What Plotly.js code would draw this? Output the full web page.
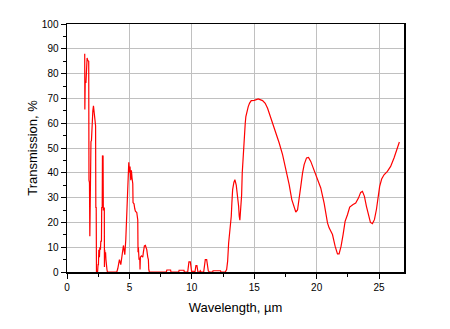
<!DOCTYPE html>
<html>
<head>
<meta charset="utf-8">
<script src="https://cdn.plot.ly/plotly-3.0.1.min.js"></script>
<style>html,body{margin:0;padding:0;background:#fff;}#chart{width:450px;height:329px;}</style>
</head>
<body>
<div id="chart"></div>
<script>
const wavelength = [
  1.42, 1.43, 1.46, 1.52, 1.55, 1.61, 1.66, 1.74, 1.76, 1.80, 1.83, 1.85, 1.89, 1.92, 1.96, 1.99, 2.04, 2.07, 2.12, 2.16, 2.20, 2.25, 2.29, 2.31, 2.34, 2.36,
  2.45, 2.49, 2.52, 2.55, 2.60, 2.63, 2.68, 2.71, 2.76, 2.78, 2.82, 2.84, 2.87, 2.89, 2.91, 2.96, 2.99, 3.00, 3.02, 3.06, 3.09, 3.12, 3.14, 3.20, 3.24,
  3.99, 4.07, 4.20, 4.31, 4.41, 4.47, 4.52, 4.57, 4.63, 4.71, 4.76, 4.81, 4.84, 4.87, 4.89, 4.95, 5.00, 5.05, 5.11, 5.16, 5.21, 5.27, 5.29, 5.37, 5.43, 5.48, 5.59, 5.61, 5.67, 5.69, 5.72, 5.77, 5.83, 5.85, 5.88, 5.96, 6.07, 6.12, 6.20, 6.28, 6.39, 6.47, 6.52, 6.55, 6.60,
  7.96, 8.00, 8.30, 8.33, 8.95, 8.98, 9.37, 9.40, 9.67, 9.77, 9.88, 9.99, 10.04, 10.15, 10.25, 10.33, 10.41, 10.49, 10.62, 10.68, 10.74, 10.95, 11.08, 11.19, 11.32, 11.40, 11.67, 11.70, 12.30, 12.33, 12.60,
  12.68, 12.79, 12.87, 12.95, 13.08, 13.16, 13.21, 13.27, 13.37, 13.45, 13.56, 13.61, 13.69, 13.75, 13.80, 13.85, 13.88, 13.93, 13.99, 14.04, 14.12, 14.20, 14.28, 14.33, 14.41, 14.52, 14.63, 14.76, 15.00, 15.32, 15.67, 15.88, 16.07, 16.20,
  16.47, 16.73, 17.00, 17.27, 17.53, 17.80, 18.01, 18.20, 18.33, 18.47, 18.60, 18.73, 18.87, 19.00, 19.19, 19.35, 19.53, 19.80, 20.07, 20.33, 20.60, 20.87, 21.00, 21.13, 21.27, 21.48, 21.67, 21.80,
  21.96, 22.12, 22.28, 22.47, 22.65, 22.92, 23.13, 23.35, 23.53, 23.67, 23.83, 23.99, 24.15, 24.31, 24.47, 24.63, 24.79, 24.95, 25.05, 25.21, 25.40, 25.67, 25.93, 26.20, 26.41, 26.63
];
const transmission = [
  88, 65.5, 76.5, 76.5, 85, 86.3, 85.3, 85, 37, 36, 14.4, 35, 34, 52.6, 53, 59.3, 60, 65, 67, 65, 62, 59, 59, 26, 26, 0,
  0, 3, 3, 9, 6, 10, 9, 12.4, 12.4, 26, 26, 47, 46, 47, 25, 25, 26, 2, 9, 6, 8, 5, 1, 1, 0,
  0, 1.4, 5, 3, 8, 10, 10.7, 9, 7, 13, 21, 22, 30, 31, 39, 44.2, 40, 42.5, 37, 41, 38, 35.6, 28, 27.5, 25.5, 24.5, 24, 21, 21, 8, 10, 5, 5.5, 1, 6, 6.5, 6, 8, 10.5, 10.7, 9, 6, 5, 1, 0,
  0, 0.8, 0.8, 0, 0, 0.7, 0.7, 0, 0, 4.1, 4.1, 0, 0.3, 0.3, 0, 2.6, 2.6, 0, 0, 0.5, 0, 0, 5, 5, 0.5, 0, 0, 0.5, 0.5, 0, 0,
  0, 1, 4.4, 11.7, 17, 22.5, 27.8, 33.2, 36.1, 37.2, 35, 33, 29, 26.5, 22.5, 20.9, 23, 26, 31, 39.9, 48.6, 56.7, 60, 62.7, 64.7, 66.7, 68.1, 69.1, 69.2, 69.8, 69.1, 68, 66, 64,
  60.7, 56.7, 52, 47.3, 41.9, 35.2, 29.2, 25.8, 24.2, 25, 29.2, 34.5, 39.9, 43.3, 46, 46.2, 44.6, 41.2, 37.9, 33.9, 27.8, 19.8, 17.8, 16.4, 15.1, 10.4, 7.3, 7.3,
  10.4, 15.1, 20.4, 23.1, 26.2, 27.2, 27.8, 29.8, 32.1, 32.5, 30.5, 26.5, 22.5, 20, 19.5, 21.1, 25.2, 30.5, 34.5, 37.5, 39.2, 40.6, 42.6, 46, 49.3, 52.4
];
const xTickValues = [0, 5, 10, 15, 20, 25];
const yTickValues = [0, 10, 20, 30, 40, 50, 60, 70, 80, 90, 100];

const fontFamily = 'Liberation Sans, Arial, sans-serif';
const data = [{
  x: wavelength,
  y: transmission,
  type: 'scatter',
  mode: 'lines',
  line: {color: '#ff0000', width: 1.2},
  hoverinfo: 'skip'
}];
const layout = {
  width: 450, height: 329,
  margin: {l: 67, r: 46, t: 24, b: 57, pad: 0},
  paper_bgcolor: '#ffffff', plot_bgcolor: '#ffffff',
  showlegend: false,
  font: {family: fontFamily, size: 10, color: '#000'},
  xaxis: {
    range: [0, 27], tickvals: xTickValues, ticktext: xTickValues.map(String),
    ticks: 'outside', ticklen: 5, tickwidth: 1, tickcolor: '#000',
    showline: true, linecolor: '#000', linewidth: 1.5, mirror: true,
    showgrid: true, gridcolor: '#c0c0c0', gridwidth: 1, zeroline: false,
    minor: {dtick: 2.5, tick0: 0, ticks: 'outside', ticklen: 3, tickcolor: '#000', showgrid: false},
    tickfont: {size: 10, family: fontFamily},
    title: {text: 'Wavelength, µm', font: {size: 13, family: fontFamily}, standoff: 11}
  },
  yaxis: {
    range: [0, 100], tickvals: yTickValues, ticktext: yTickValues.map(String),
    ticks: 'outside', ticklen: 5, tickwidth: 1, tickcolor: '#000',
    showline: true, linecolor: '#000', linewidth: 1.5, mirror: true,
    showgrid: true, gridcolor: '#c0c0c0', gridwidth: 1, zeroline: false,
    minor: {dtick: 5, tick0: 0, ticks: 'outside', ticklen: 3, tickcolor: '#000', showgrid: false},
    tickfont: {size: 10, family: fontFamily},
    title: {text: 'Transmission, %', font: {size: 13, family: fontFamily}, standoff: 1}
  }
};
Plotly.newPlot('chart', data, layout, {staticPlot: true, displayModeBar: false});
</script>
</body>
</html>
